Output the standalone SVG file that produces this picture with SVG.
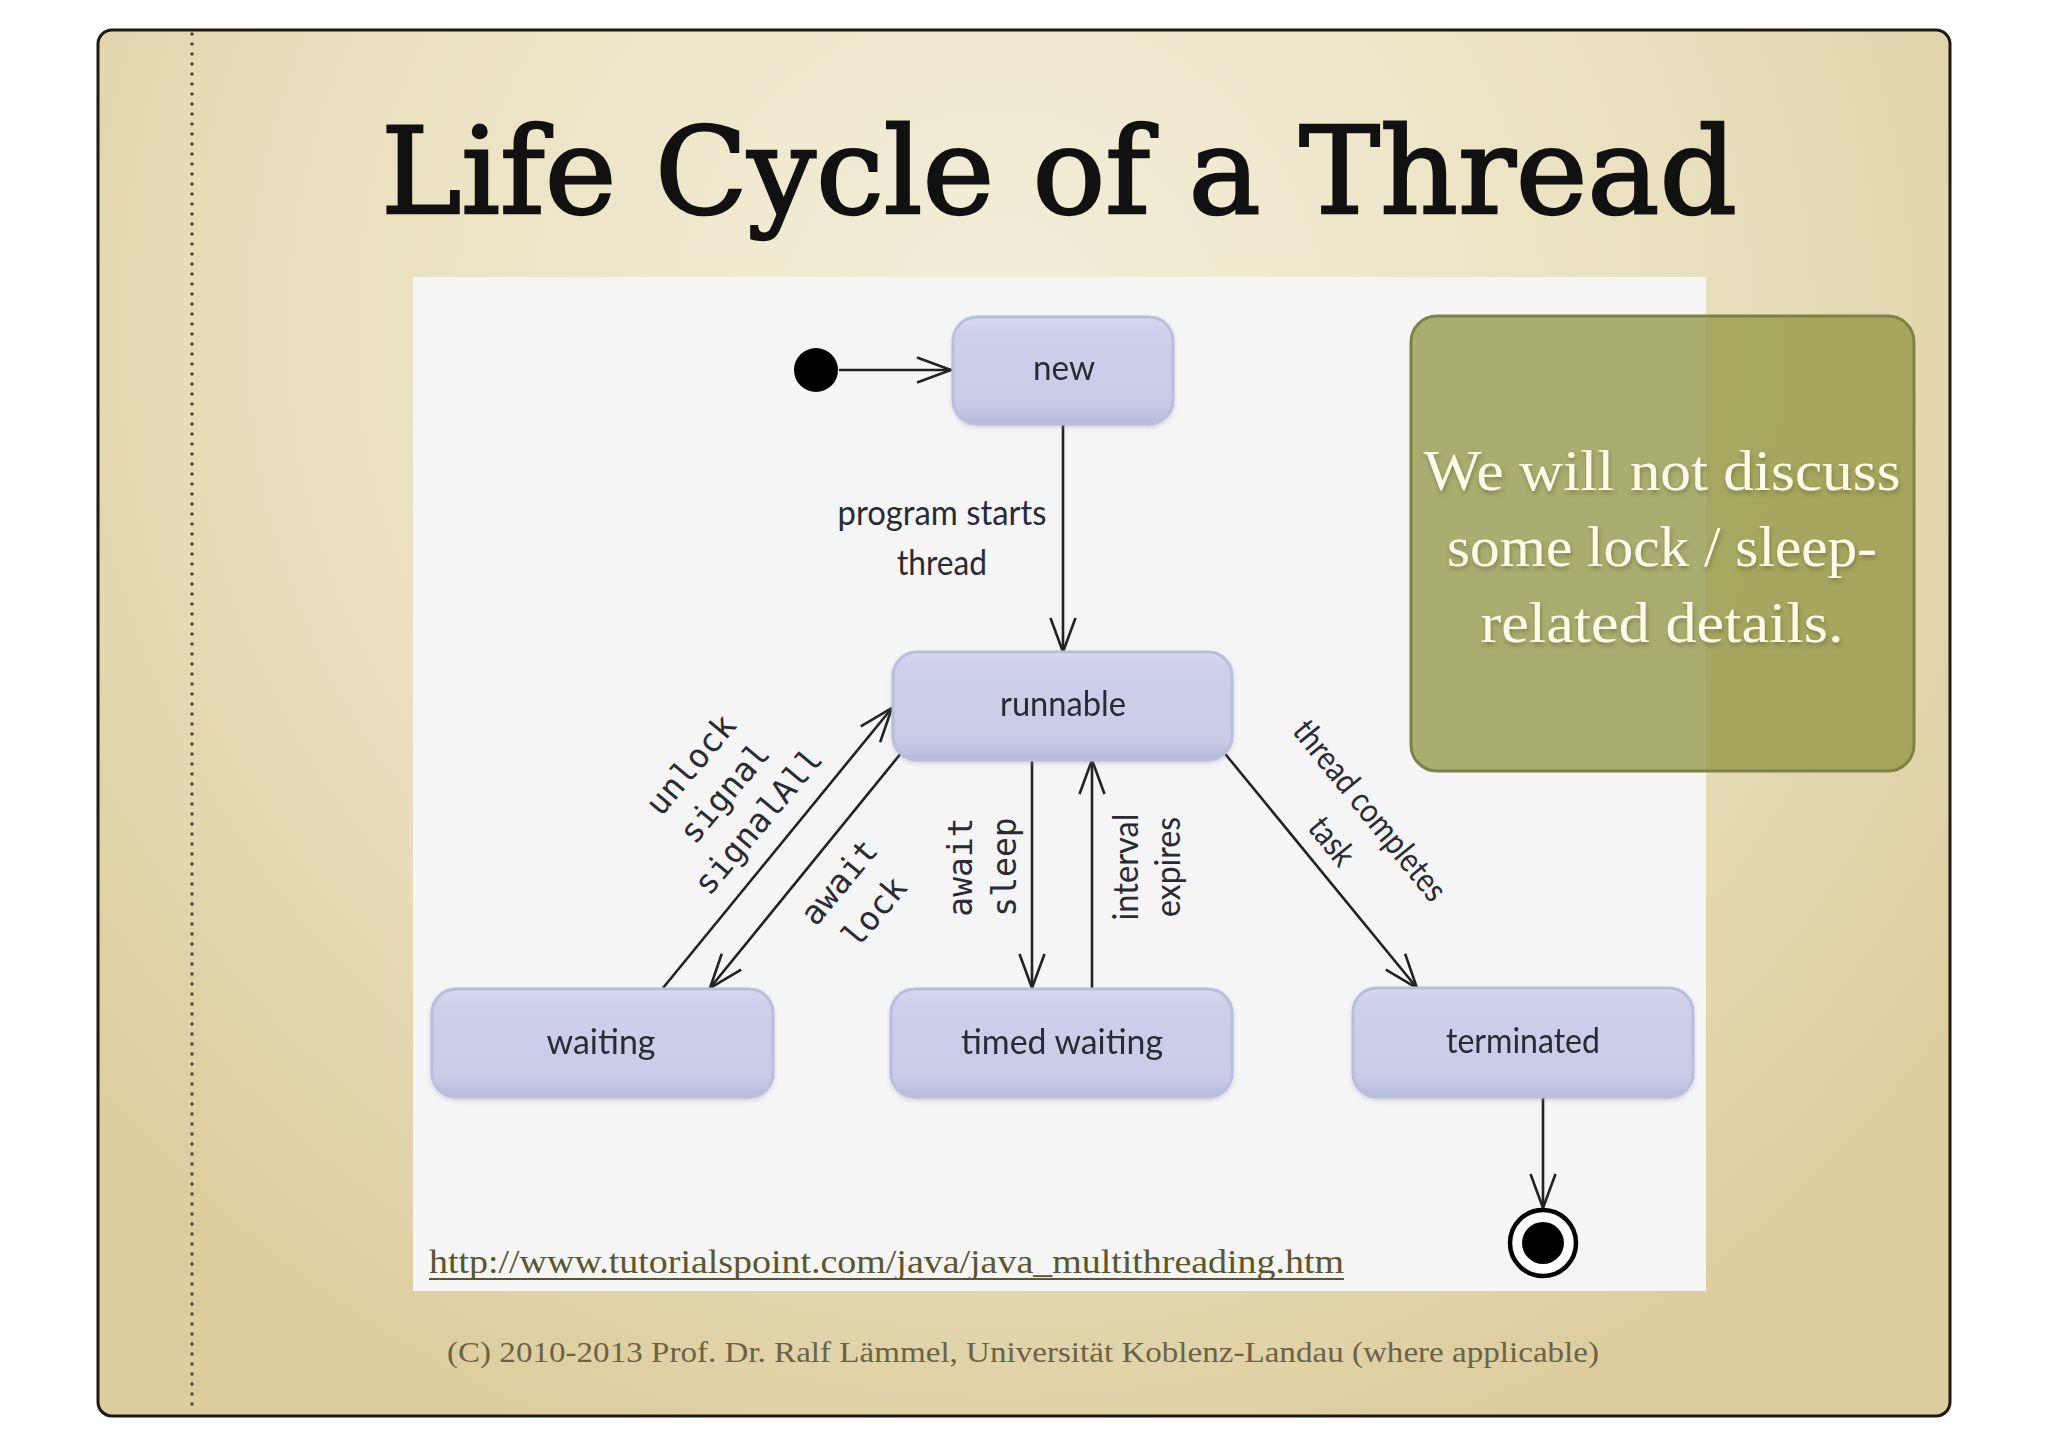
<svg xmlns="http://www.w3.org/2000/svg" width="2048" height="1447" viewBox="0 0 2048 1447">
  <defs>
    <radialGradient id="paper" cx="1000" cy="330" r="1200" gradientUnits="userSpaceOnUse">
      <stop offset="0" stop-color="#f4efdb"/>
      <stop offset="0.55" stop-color="#ebe1c0"/>
      <stop offset="1" stop-color="#ddcd9e"/>
    </radialGradient>
    <linearGradient id="nodeFill" x1="0" y1="0" x2="0" y2="1">
      <stop offset="0" stop-color="#d9dcef"/>
      <stop offset="0.12" stop-color="#cdd0ea"/>
      <stop offset="0.82" stop-color="#c9cce7"/>
      <stop offset="1" stop-color="#b4badb"/>
    </linearGradient>
    <marker id="open" markerWidth="44" markerHeight="32" refX="38" refY="16" orient="auto" markerUnits="userSpaceOnUse" viewBox="0 0 44 32">
      <path d="M4,3.5 L38,16 L4,28.5" fill="none" stroke="#222" stroke-width="2.6"/>
    </marker>
    <filter id="shadow" x="-10%" y="-10%" width="120%" height="130%">
      <feDropShadow dx="1" dy="3" stdDeviation="2" flood-color="#4a4a20" flood-opacity="0.45"/>
    </filter>
    <filter id="nodeShadow" x="-5%" y="-10%" width="110%" height="130%">
      <feDropShadow dx="0" dy="2" stdDeviation="2" flood-color="#8d93b5" flood-opacity="0.35"/>
    </filter>
  </defs>
  <style>
    .node rect { fill: url(#nodeFill); stroke: #b9bedd; stroke-width: 3; }
    .lbl { font-family: Lato, "Open Sans", "Liberation Sans", sans-serif; font-size: 34px; fill: #2a2a34; }
    .mono { font-family: "DejaVu Sans Mono", "Liberation Mono", monospace; font-size: 33px; fill: #2a2a34; }
    .edge { stroke: #222; stroke-width: 2.6; fill: none; }
    .arrow { marker-end: url(#open); }
  </style>

  <rect width="2048" height="1447" fill="#ffffff"/>
  <!-- slide -->
  <rect x="98" y="30" width="1852" height="1386" rx="14" fill="url(#paper)" stroke="#1e1a12" stroke-width="3"/>
  <line x1="192" y1="34" x2="192" y2="1414" stroke="#4e4636" stroke-width="3.4" stroke-linecap="round" stroke-dasharray="0 10"/>

  <!-- title -->
  <text x="381" y="213" font-family="'DejaVu Serif', 'Liberation Serif', serif" font-size="120" fill="#111" stroke="#111" stroke-width="2.5" textLength="1356" lengthAdjust="spacingAndGlyphs">Life Cycle of a Thread</text>

  <!-- diagram image area -->
  <rect x="413" y="277" width="1293" height="1014" fill="#f5f5f6"/>

  <!-- connectors -->
  <g id="connectors">
    <line class="edge arrow" x1="839" y1="370" x2="951" y2="370"/>
    <line class="edge arrow" x1="1063" y1="424" x2="1063" y2="652"/>
    <line class="edge arrow" x1="663" y1="988" x2="892" y2="708"/>
    <line class="edge arrow" x1="902" y1="752" x2="710" y2="988"/>
    <line class="edge arrow" x1="1032" y1="760" x2="1032" y2="988"/>
    <line class="edge arrow" x1="1092" y1="988" x2="1092" y2="760"/>
    <line class="edge arrow" x1="1222" y1="750" x2="1417" y2="988"/>
    <line class="edge arrow" x1="1543" y1="1097" x2="1543" y2="1208"/>

    <text class="lbl" x="942" y="525" text-anchor="middle" textLength="209" lengthAdjust="spacingAndGlyphs">program starts</text>
    <text class="lbl" x="942" y="575" text-anchor="middle" textLength="90" lengthAdjust="spacingAndGlyphs">thread</text>

    <g transform="translate(727,795) rotate(-50)">
      <text class="mono" x="0" y="-36" text-anchor="middle">unlock</text>
      <text class="mono" x="0" y="8" text-anchor="middle">signal</text>
      <text class="mono" x="0" y="52" text-anchor="middle">signalAll</text>
    </g>
    <g transform="translate(840,883) rotate(-50)">
      <text class="mono" x="0" y="10" text-anchor="middle">await</text>
      <text class="mono" x="0" y="56" text-anchor="middle">lock</text>
    </g>
    <text class="mono" transform="translate(972,867) rotate(-90)" x="0" y="0" text-anchor="middle">await</text>
    <text class="mono" transform="translate(1016,867) rotate(-90)" x="0" y="0" text-anchor="middle">sleep</text>
    <text class="lbl" transform="translate(1138,867) rotate(-90)" x="0" y="0" text-anchor="middle" textLength="107" lengthAdjust="spacingAndGlyphs">interval</text>
    <text class="lbl" transform="translate(1180,867) rotate(-90)" x="0" y="0" text-anchor="middle" textLength="100" lengthAdjust="spacingAndGlyphs">expires</text>
    <g transform="translate(1368,812) rotate(51)">
      <text class="lbl" x="0" y="9" text-anchor="middle" textLength="222" lengthAdjust="spacingAndGlyphs">thread completes</text>
      <text class="lbl" x="0" y="58" text-anchor="middle" textLength="52" lengthAdjust="spacingAndGlyphs">task</text>
    </g>
  </g>

  <!-- nodes -->
  <g id="initial">
    <circle cx="816" cy="370" r="22" fill="#000"/>
  </g>
  <g id="new" class="node" filter="url(#nodeShadow)">
    <rect x="953" y="317" width="220" height="107" rx="24"/>
    <text class="lbl" x="1064" y="380" text-anchor="middle" textLength="62" lengthAdjust="spacingAndGlyphs">new</text>
  </g>
  <g id="runnable" class="node" filter="url(#nodeShadow)">
    <rect x="893" y="652" width="339" height="108" rx="24"/>
    <text class="lbl" x="1063" y="716" text-anchor="middle" textLength="126" lengthAdjust="spacingAndGlyphs">runnable</text>
  </g>
  <g id="waiting" class="node" filter="url(#nodeShadow)">
    <rect x="432" y="989" width="341" height="108" rx="24"/>
    <text class="lbl" x="601" y="1054" text-anchor="middle" textLength="109" lengthAdjust="spacingAndGlyphs">waiting</text>
  </g>
  <g id="timed-waiting" class="node" filter="url(#nodeShadow)">
    <rect x="891" y="989" width="341" height="108" rx="24"/>
    <text class="lbl" x="1062" y="1054" text-anchor="middle" textLength="202" lengthAdjust="spacingAndGlyphs">timed waiting</text>
  </g>
  <g id="terminated" class="node" filter="url(#nodeShadow)">
    <rect x="1353" y="988" width="340" height="109" rx="24"/>
    <text class="lbl" x="1523" y="1053" text-anchor="middle" textLength="154" lengthAdjust="spacingAndGlyphs">terminated</text>
  </g>
  <g id="final">
    <circle cx="1543" cy="1243" r="33" fill="#fff" stroke="#000" stroke-width="4.5"/>
    <circle cx="1543" cy="1243" r="21" fill="#000"/>
  </g>

  <!-- URL -->
  <g id="url">
    <text x="429" y="1273" font-family="'Liberation Serif', serif" font-size="33" fill="#5a5630" textLength="915" lengthAdjust="spacingAndGlyphs">http://www.tutorialspoint.com/java/java_multithreading.htm</text>
    <line x1="429" y1="1279" x2="1344" y2="1279" stroke="#5a5630" stroke-width="2"/>
  </g>

  <!-- note box -->
  <g id="note">
    <rect x="1411" y="316" width="503" height="455" rx="26" fill="rgb(144,148,67)" fill-opacity="0.75" stroke="#7b8446" stroke-width="3"/>
    <g font-family="'Liberation Serif', serif" font-size="56" fill="#fdfbe8" text-anchor="middle" filter="url(#shadow)">
      <text x="1662" y="490" textLength="477" lengthAdjust="spacingAndGlyphs">We will not discuss</text>
      <text x="1662" y="566" textLength="430" lengthAdjust="spacingAndGlyphs">some lock / sleep-</text>
      <text x="1662" y="642" textLength="363" lengthAdjust="spacingAndGlyphs">related details.</text>
    </g>
  </g>

  <!-- footer -->
  <text x="447" y="1362" font-family="'Liberation Serif', serif" font-size="30" fill="#6b6346" textLength="1152" lengthAdjust="spacingAndGlyphs">(C) 2010-2013 Prof. Dr. Ralf Lämmel, Universität Koblenz-Landau (where applicable)</text>
</svg>
